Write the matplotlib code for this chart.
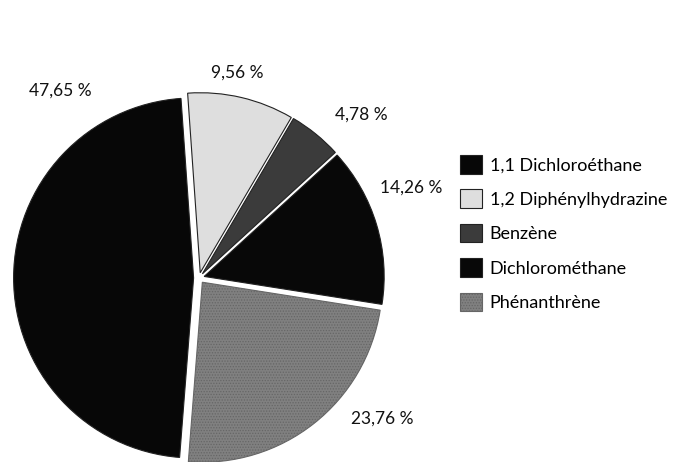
import numpy as np
import matplotlib
matplotlib.use("Agg")
import matplotlib.pyplot as plt

plt.rcParams['font.family'] = ['Lato', 'DejaVu Sans']
plt.rcParams['hatch.linewidth'] = 0.6

# data
compounds = ["1,1 Dichloroéthane", "1,2 Diphénylhydrazine", "Benzène",
             "Dichlorométhane", "Phénanthrène"]
shares = [47.65, 9.56, 4.78, 14.26, 23.76]
colours = ["#070707", "#dedede", "#3b3b3b", "#080808", "#808080"]

# where the percentage labels sit (pie radius units)
label_xy = [(-0.77, 1.04), (0.21, 1.14), (0.90, 0.91), (1.18, 0.50), (1.02, -0.78)]

fig = plt.figure(figsize=(6.73, 4.62), dpi=100)
R = 180.0
cx, cy = 199.0, 462 - 278.0
half = 1.3 * R
ax = fig.add_axes([(cx - half) / 673, (cy - half) / 462, 2 * half / 673, 2 * half / 462])

start = 94 + shares[0] / 100 * 360
wedges, _ = ax.pie(shares, colors=colours, startangle=start, counterclock=False,
                   explode=[0.03] * len(shares),
                   wedgeprops=dict(edgecolor="#222222", linewidth=0.8))
wedges[4].set_hatch("......")
wedges[4].set_edgecolor("#666666")

for (x, y), v in zip(label_xy, shares):
    ax.text(x, y, f"{v:.2f} %".replace(".", ","), ha="center", va="center",
            fontsize=12.5, color="#111111")

ax.set_xlim(-1.3, 1.3)
ax.set_ylim(-1.3, 1.3)
ax.set_aspect("equal")
ax.axis("off")

fig.legend(wedges, compounds, loc="upper left", bbox_to_anchor=(451 / 673, 1 - 146 / 462),
           frameon=False, fontsize=13, handlelength=1.2, handleheight=1.2,
           labelspacing=0.88, handletextpad=0.45, borderpad=0)

fig.savefig("out.png", dpi=100)
